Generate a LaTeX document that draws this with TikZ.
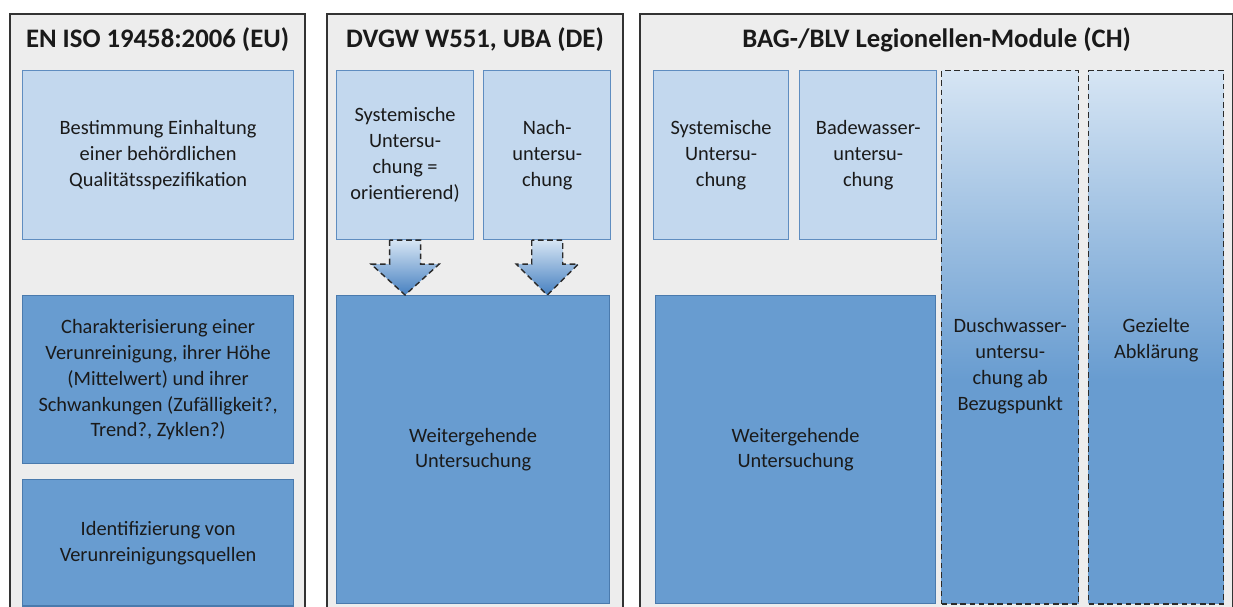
\documentclass[tikz,border=0pt]{standalone}
\usepackage{fontspec}
\setmainfont{Carlito}
\usetikzlibrary{positioning,calc}
\definecolor{panelfill}{HTML}{EDEDED}
\definecolor{panelline}{HTML}{333333}
\definecolor{lightfill}{HTML}{C3D8EE}
\definecolor{lightline}{HTML}{5F8DC0}
\definecolor{darkfill}{HTML}{689CD0}
\definecolor{darkline}{HTML}{4A7AAD}
\definecolor{gradtop}{HTML}{D6E5F4}
\definecolor{arrowtip}{HTML}{4680C0}
\definecolor{dashline}{HTML}{2A2A2A}
\definecolor{textcol}{HTML}{1A1A1A}
\newcommand\boxfont{\fontsize{14.5}{18.4}\selectfont}
\pgfdeclareverticalshading{duschshade}{100bp}{color(0bp)=(darkfill); color(25bp)=(darkfill); color(46bp)=(darkfill); color(75bp)=(gradtop); color(100bp)=(gradtop)}
\tikzset{
  panel/.style={draw=panelline,line width=1.4pt,fill=panelfill,anchor=north west,minimum height=15.2cm},
  paneltitle/.style={font=\fontsize{19}{23}\selectfont\bfseries,text=textcol,inner sep=0pt},
  lightbox/.style={draw=lightline,line width=0.8pt,fill=lightfill,align=center,text=textcol,font=\boxfont,inner sep=0pt},
  darkbox/.style={lightbox,draw=darkline,fill=darkfill},
  gradbox/.style={draw=dashline,line width=1pt,dash pattern=on 4pt off 2.6pt,shading=duschshade,anchor=north west,minimum height=13.325cm},
  boxtext/.style={align=center,text=textcol,font=\boxfont,inner sep=0pt,anchor=north},
  flowarrow/.style={draw=dashline,line width=1pt,dash pattern=on 4pt off 2.6pt,top color=gradtop,bottom color=arrowtip}
}
\begin{document}
\begin{tikzpicture}[x=0.025cm,y=-0.025cm]
\clip (0,0) rectangle (1233,606);

% Panels
\node[panel,minimum width=7.375cm] (eupanel) at (9,13) {};
\node[panel,minimum width=7.4cm] (depanel) at (326,13) {};
\node[panel,minimum width=14.825cm] (chpanel) at (639,13) {};

\node[paneltitle] (eutitle) at ($(eupanel.north)+(0,27)$) {EN ISO 19458:2006 (EU)};
\node[paneltitle] (detitle) at ($(depanel.north)+(0,27)$) {DVGW W551, UBA (DE)};
\node[paneltitle] (chtitle) at ($(chpanel.north)+(0,27)$) {BAG-/BLV Legionellen-Module (CH)};

% EU
\node[lightbox,anchor=north west,minimum width=6.775cm,minimum height=4.225cm] (euquali) at (22,70)
  {Bestimmung Einhaltung\\einer behördlichen\\Qualitätsspezifikation};
\node[darkbox,below=1.375cm of euquali,minimum width=6.775cm,minimum height=4.2cm] (euchar)
  {Charakterisierung einer\\Verunreinigung, ihrer Höhe\\(Mittelwert) und ihrer\\Schwankungen (Zufälligkeit?,\\Trend?, Zyklen?)};
\node[darkbox,below=0.375cm of euchar,minimum width=6.775cm,minimum height=3.15cm] (euident)
  {Identifizierung von\\Verunreinigungsquellen};

% DE
\node[lightbox,anchor=north west,minimum width=3.425cm,minimum height=4.225cm] (desys) at (336,70)
  {Systemische\\Untersu-\\chung =\\orientierend)};
\node[lightbox,right=0.225cm of desys,minimum width=3.175cm,minimum height=4.225cm] (denach)
  {Nach-\\untersu-\\chung};
\node[darkbox,anchor=north west,minimum width=6.825cm,minimum height=7.7cm] (deweiter) at (336,295)
  {Weitergehende\\Untersuchung};

\coordinate (tipsys) at (deweiter.north -| desys.south);
\coordinate (tipnach) at (deweiter.north -| denach.south);
\draw[flowarrow] ($(desys.south)+(-15.5,0)$) -- ++(0,24) -- ++(-18.5,0) -- (tipsys)
  -- ($(desys.south)+(34,24)$) -- ++(-18.5,0) -- ($(desys.south)+(15.5,0)$) -- cycle;
\draw[flowarrow] ($(denach.south)+(-15.5,0)$) -- ++(0,24) -- ++(-15.5,0) -- (tipnach)
  -- ($(denach.south)+(31,24)$) -- ++(-15.5,0) -- ($(denach.south)+(15.5,0)$) -- cycle;

% CH
\node[lightbox,anchor=north west,minimum width=3.375cm,minimum height=4.225cm] (chsys) at (653,70)
  {Systemische\\Untersu-\\chung};
\node[lightbox,right=0.25cm of chsys,minimum width=3.425cm,minimum height=4.225cm] (chbade)
  {Badewasser-\\untersu-\\chung};
\node[darkbox,anchor=north west,minimum width=7cm,minimum height=7.7cm] (chweiter) at (655,295)
  {Weitergehende\\Untersuchung};
\node[gradbox,minimum width=3.425cm] (chdusch) at (941,70) {};
\node[gradbox,minimum width=3.375cm] (chgez) at (1088,70) {};
\node[boxtext,below=6.2cm of chdusch.north] (duschtext)
  {Duschwasser-\\untersu-\\chung ab\\Bezugspunkt};
\node[boxtext,below=6.2cm of chgez.north] (geztext)
  {Gezielte\\Abklärung};

\end{tikzpicture}
\end{document}
